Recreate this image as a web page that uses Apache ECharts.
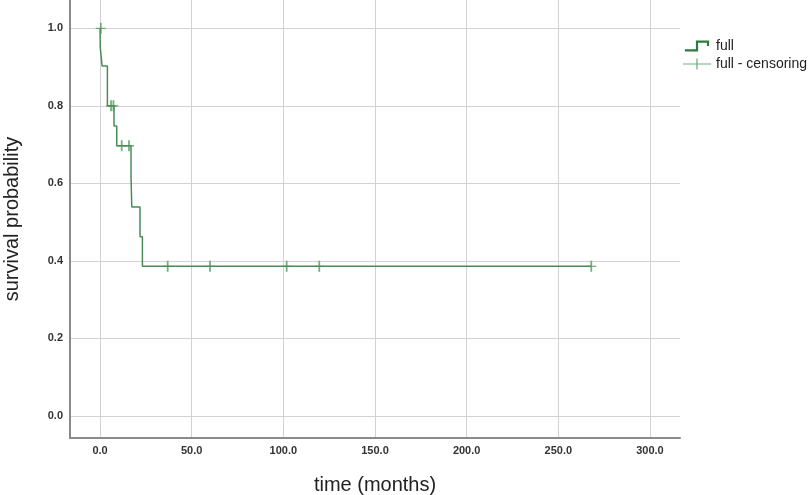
<!DOCTYPE html>
<html>
<head>
<meta charset="utf-8">
<script src="https://cdn.jsdelivr.net/npm/echarts@6/dist/echarts.min.js"></script>
<style>
  html, body { margin: 0; padding: 0; background: #fff; }
  #chart { width: 810px; height: 495px; }
</style>
</head>
<body>
<div id="chart"></div>
<script>
// Kaplan-Meier step points (time in months, survival after the event)
var eventTimes = [0, 0.1, 1.1, 4.0, 7.6, 9.1, 16.9, 17.3, 21.8, 23.1, 268]
var survival = [1, 0.952, 0.903, 0.80, 0.748, 0.697, 0.615, 0.539, 0.462, 0.386, 0.386]

// censored observations
var censorTimes = [0.4, 6.0, 7.3, 11.8, 15.8, 36.9, 60, 101.8, 119.6, 268]
var censorValues = [1, 0.8, 0.8, 0.697, 0.697, 0.386, 0.386, 0.386, 0.386, 0.386]

var xTicks = [0, 50, 100, 150, 200, 250, 300]
var yTicks = [0, 0.2, 0.4, 0.6, 0.8, 1.0]

var lineColor = '#4a8c58'
var censorColor = '#4f9a5e'
var font = 'Liberation Sans, Arial, sans-serif'

var chart = echarts.init(document.getElementById('chart'))

chart.setOption({
  animation: false,
  backgroundColor: '#fff',
  textStyle: { fontFamily: font },
  grid: {
    left: 70,
    right: 130,
    top: 0,
    bottom: 57,
    outerBoundsMode: 'none'
  },
  legend: {
    orient: 'vertical',
    left: 683,
    top: 39,
    padding: 0,
    itemGap: 4,
    itemWidth: 28,
    itemHeight: 11,
    textStyle: { fontSize: 14, color: '#222', fontFamily: font },
    data: [
      {
        name: 'full',
        icon: 'path://M0,8L10,8L10,0L22,0L22,5L20,5L20,2L12,2L12,10L0,10Z',
        itemStyle: { color: '#2f7a3e' }
      },
      {
        name: 'full - censoring',
        icon: 'path://M0,4.6L12.4,4.6L12.4,0L13.6,0L13.6,4.6L26,4.6L26,5.4L13.6,5.4L13.6,10L12.4,10L12.4,5.4L0,5.4Z',
        itemStyle: { color: censorColor }
      }
    ]
  },
  xAxis: {
    type: 'value',
    min: -16.4,
    max: 316.4,
    name: 'time (months)',
    nameLocation: 'middle',
    nameGap: 37,
    nameTextStyle: { fontSize: 20, color: '#222', fontFamily: font },
    axisLine: { show: true, onZero: false, lineStyle: { color: '#8a8a8a', width: 2 } },
    axisTick: { show: false, customValues: xTicks },
    axisLabel: {
      customValues: xTicks,
      margin: 7,
      fontSize: 11,
      fontWeight: 'bold',
      color: '#333',
      formatter: function (v) { return v.toFixed(1) }
    },
    splitLine: { show: true, lineStyle: { color: '#d2d2d2', width: 1 } }
  },
  yAxis: {
    type: 'value',
    min: -0.057,
    max: 1.073,
    name: 'survival probability',
    nameLocation: 'middle',
    nameGap: 48,
    nameRotate: 90,
    nameTextStyle: { fontSize: 20, color: '#222', fontFamily: font },
    axisLine: { show: true, onZero: false, lineStyle: { color: '#8a8a8a', width: 2 } },
    axisTick: { show: false, customValues: yTicks },
    axisLabel: {
      customValues: yTicks,
      margin: 7,
      fontSize: 11,
      fontWeight: 'bold',
      color: '#333',
      formatter: function (v) { return v.toFixed(1) }
    },
    splitLine: { show: true, lineStyle: { color: '#d2d2d2', width: 1 } }
  },
  series: [
    {
      name: 'full',
      type: 'line',
      step: 'end',
      showSymbol: false,
      symbol: 'none',
      lineStyle: { color: lineColor, width: 1.5 },
      itemStyle: { color: '#2f7a3e' },
      data: eventTimes.map(function (t, i) { return [t, survival[i]] })
    },
    {
      name: 'full - censoring',
      type: 'scatter',
      symbol: 'path://M4.3,0L5.7,0L5.7,4.4L9,4.4L9,5.6L5.7,5.6L5.7,10L4.3,10L4.3,5.6L1,5.6L1,4.4L4.3,4.4Z',
      symbolSize: [10, 11],
      itemStyle: { color: censorColor },
      data: censorTimes.map(function (t, i) { return [t, censorValues[i]] })
    }
  ]
})
</script>
</body>
</html>
